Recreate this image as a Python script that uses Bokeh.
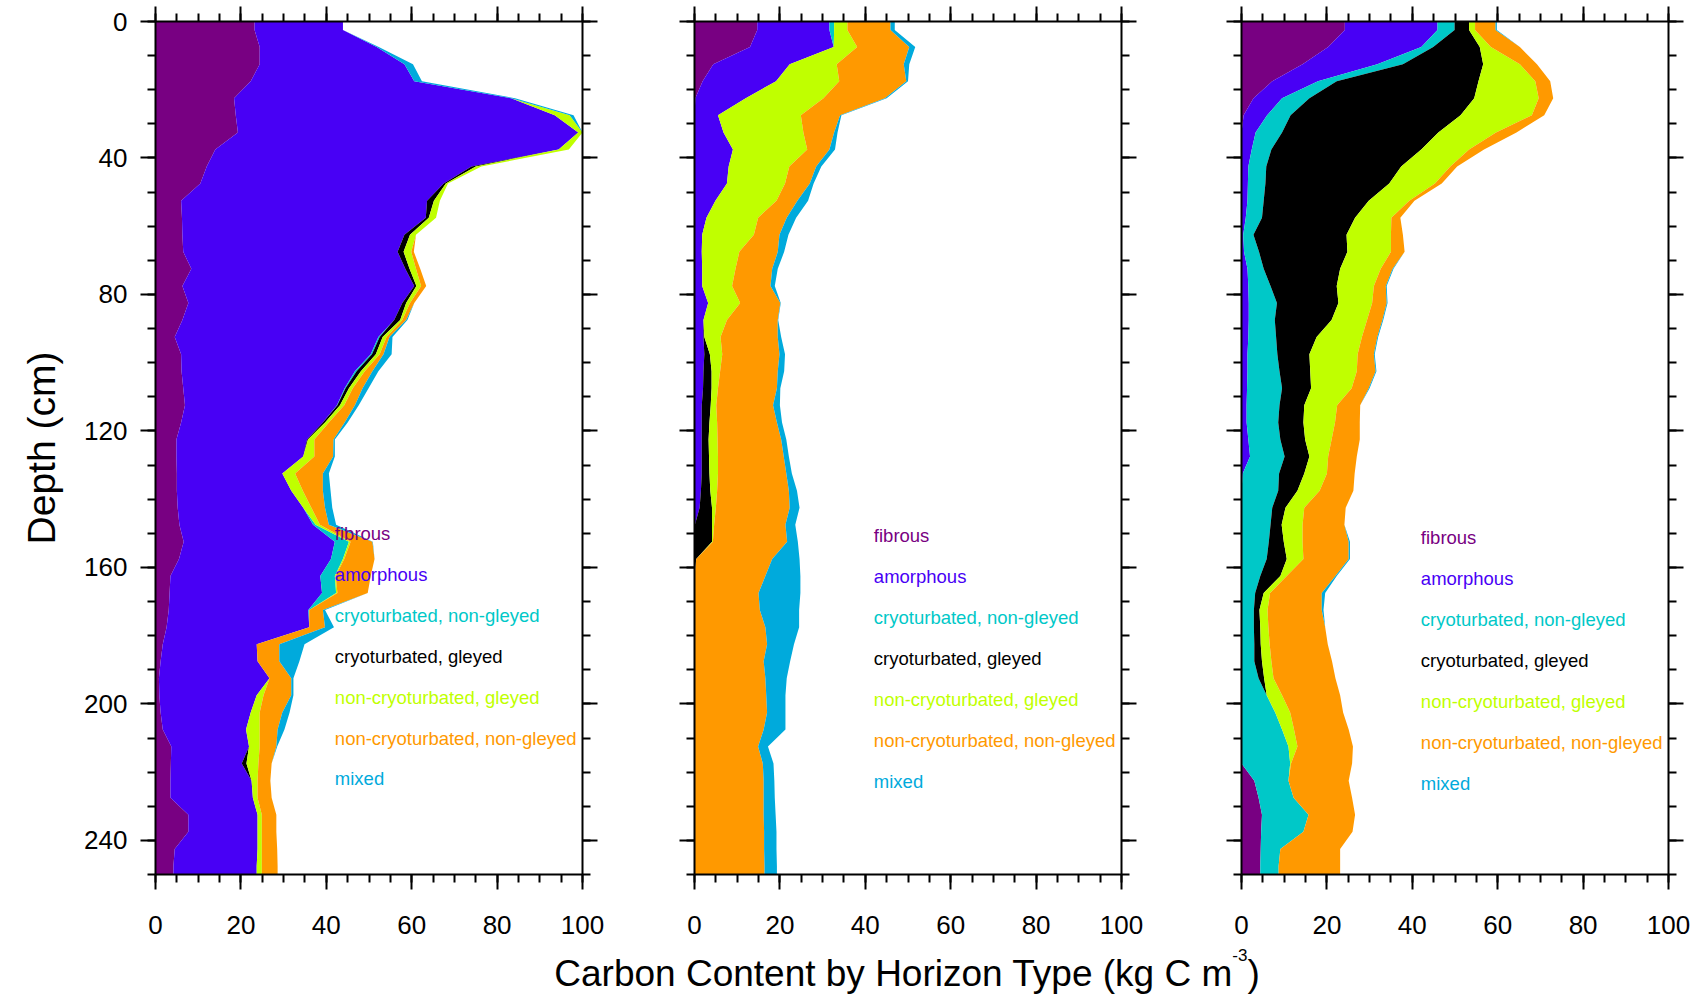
from bokeh.plotting import figure
from bokeh.models import ColumnDataSource, Range1d, LinearAxis, FixedTicker, Div
from bokeh.layouts import row, column
from bokeh.core.properties import value
from bokeh.embed import file_html
from bokeh.resources import INLINE

# Mid-depth of each 5 cm soil layer (cm)
DEPTH = [2.5, 7.5, 12.5, 17.5, 22.5, 27.5, 32.5, 37.5, 42.5, 47.5,
         52.5, 57.5, 62.5, 67.5, 72.5, 77.5, 82.5, 87.5, 92.5, 97.5,
         102.5, 107.5, 112.5, 117.5, 122.5, 127.5, 132.5, 137.5, 142.5, 147.5,
         152.5, 157.5, 162.5, 167.5, 172.5, 177.5, 182.5, 187.5, 192.5, 197.5,
         202.5, 207.5, 212.5, 217.5, 222.5, 227.5, 232.5, 237.5, 242.5, 247.5]

HORIZONS = ["fibrous", "amorphous", "cryoturbated, non-gleyed", "cryoturbated, gleyed",
            "non-cryoturbated, gleyed", "non-cryoturbated, non-gleyed", "mixed"]
KEYS = ["fib", "amo", "crn", "crg", "ncg", "ncng", "mix"]
COLORS = ["#780082", "#4800F5", "#00C8C8", "#000000", "#C0FF00", "#FF9900", "#00AADC"]

X_TICKS = [0, 20, 40, 60, 80, 100]
X_MINOR = [0, 5, 10, 15, 20, 25, 30, 35, 40, 45, 50, 55, 60, 65, 70, 75, 80, 85, 90, 95, 100]
Y_TICKS = [0, 40, 80, 120, 160, 200, 240]
Y_MINOR = [0, 10, 20, 30, 40, 50, 60, 70, 80, 90, 100, 110, 120, 130, 140, 150, 160, 170,
           180, 190, 200, 210, 220, 230, 240, 250]
LEGEND_X = 42
LEGEND_Y = [150, 162, 174, 186, 198, 210, 222]
LEGEND_SHIFT = [0.0, 0.6, 1.2]

# ---- Profile 1: carbon content (kg C m-3) by horizon type ----
fib1 = [23.2, 24.4, 24.4, 22.3, 18.4, 18.8, 19.3, 14.0, 12.0, 10.5,
        6.0, 6.2, 6.3, 6.5, 8.4, 6.3, 7.7, 6.3, 4.5, 6.0,
        6.1, 6.5, 6.9, 6.0, 4.9, 4.9, 5.0, 5.0, 5.2, 5.6,
        6.6, 5.5, 3.5, 3.3, 3.1, 2.6, 1.7, 1.2, 0.8, 0.9,
        1.2, 1.7, 3.7, 3.6, 3.5, 3.5, 7.7, 7.7, 4.5, 4.2]
amo1 = [20.7, 27.4, 33.9, 38.3, 64.9, 74.7, 79.7, 80.4, 62.0, 57.0,
        57.6, 57.1, 52.0, 50.2, 50.1, 54.3, 50.1, 49.6, 47.7, 44.4,
        40.6, 37.8, 35.6, 33.2, 30.6, 29.7, 24.7, 26.8, 29.4, 31.3,
        35.4, 35.6, 35.1, 35.7, 32.7, 33.4, 22.0, 22.7, 25.9, 22.8,
        21.1, 19.5, 18.2, 16.6, 19.0, 19.3, 16.2, 16.2, 19.4, 19.5]
crn1 = [0, 0, 0, 0, 0, 0, 0, 0, 0, 0,
        0, 0, 0, 0, 0, 0, 0, 0, 0.3, 0.3,
        0.4, 0.2, 0.1, 0, 0, 0, 0, 0, 0, 0.6,
        3.3, 2.8, 3.4, 3.3, 0.2, 0, 0, 0, 0, 0,
        0, 0, 0, 0, 0, 0, 0, 0, 0, 0]
crg1 = [0, 0, 0, 0, 0, 0, 0, 0, 1.0, 0.5,
        1.6, 0.7, 1.3, 1.4, 1.0, 0.5, 0.9, 1.4, 0.7, 0.9,
        1.0, 0.8, 0.6, 0.5, 0.2, 0, 0, 0, 0, 0,
        0, 0, 0, 0, 0, 0, 0, 0, 0, 0,
        0, 0, 0, 1.1, 0, 0, 0, 0, 0, 0]
ncg1 = [0, 0, 0, 0, 0, 3.5, 1.0, 2.4, 1.3, 0.5,
        1.4, 1.7, 1.4, 1.8, 1.5, 1.1, 0.9, 0.5, 0.9, 0.9,
        0.9, 0.9, 1.0, 0.9, 1.5, 2.6, 3.0, 2.7, 1.9, 1.0,
        0.4, 0.3, 0.2, 0.3, 0, 0, 0, 0, 0, 1.6,
        2.1, 3.2, 2.5, 2.8, 1.4, 1.1, 1.0, 1.0, 1.0, 1.2]
ncng1 = [0, 0, 0, 0, 0, 0, 0, 0, 0, 0,
         0, 0, 0, 0.6, 1.0, 1.2, 1.0, 0.9, 0.7, 0.9,
         1.8, 2.3, 2.5, 3.7, 4.5, 4.4, 6.5, 4.7, 3.2, 2.1,
         5.1, 7.1, 8.2, 7.1, 3.2, 3.7, 5.3, 5.1, 5.1, 6.5,
         5.3, 4.2, 3.9, 3.1, 3.0, 3.3, 3.4, 3.4, 3.6, 3.7]
mix1 = [0, 0.5, 2.0, 1.8, 0.9, 0.9, 0, 0, 0, 0,
        0, 0, 0, 0, 0, 0, 0, 0.3, 0.7, 1.9,
        1.4, 1.4, 0.9, 0.7, 0.3, 0.4, 1.4, 1.8, 1.7, 1.7,
        0.1, 0, 0, 0, 0.5, 2.1, 5.9, 4.7, 0.5, 0.5,
        1.7, 1.6, 0.2, 0, 0, 0, 0, 0, 0, 0]

# ---- Profile 2 ----
fib2 = [14.7, 13.0, 4.4, 1.9, 0.2, 0, 0, 0, 0, 0,
        0, 0, 0, 0, 0, 0, 0, 0, 0, 0,
        0, 0, 0, 0, 0, 0, 0, 0, 0, 0,
        0, 0, 0, 0, 0, 0, 0, 0, 0, 0,
        0, 0, 0, 0, 0, 0, 0, 0, 0, 0]
amo2 = [16.9, 19.6, 17.9, 17.2, 11.8, 5.5, 6.8, 9.0, 8.0, 7.6,
        4.9, 2.8, 1.8, 1.7, 1.8, 1.8, 3.2, 2.1, 2.1, 2.3,
        2.1, 2.0, 1.7, 1.7, 1.7, 1.7, 1.7, 1.5, 1.2, 0.1,
        0, 0, 0, 0, 0, 0, 0, 0, 0, 0,
        0, 0, 0, 0, 0, 0, 0, 0, 0, 0]
crn2 = [1.1, 0, 0, 0, 0, 0, 0, 0, 0, 0,
        0, 0, 0, 0, 0, 0, 0, 0, 0, 0,
        0, 0, 0, 0, 0, 0, 0, 0, 0, 0,
        0, 0, 0, 0, 0, 0, 0, 0, 0, 0,
        0, 0, 0, 0, 0, 0, 0, 0, 0, 0]
crg2 = [0, 0, 0, 0, 0, 0, 0, 0, 0, 0,
        0, 0, 0, 0, 0, 0, 0, 0, 0.2, 1.3,
        1.9, 2.0, 2.1, 1.8, 1.6, 1.7, 1.8, 2.2, 2.9, 4.0,
        4.1, 0.4, 0, 0, 0, 0, 0, 0, 0, 0,
        0, 0, 0, 0, 0, 0, 0, 0, 0, 0]
ncg2 = [3.1, 5.5, 11.0, 14.8, 18.2, 19.4, 18.7, 17.4, 14.2, 13.6,
        14.3, 12.1, 12.1, 8.8, 7.8, 7.0, 7.5, 5.5, 3.8, 2.9,
        2.0, 1.5, 1.3, 1.8, 2.1, 2.1, 2.0, 1.6, 0.9, 0.5,
        0.2, 0, 0, 0, 0, 0, 0, 0, 0, 0,
        0, 0, 0, 0, 0, 0, 0, 0, 0, 0]
ncng2 = [10.1, 12.2, 15.7, 15.7, 14.4, 9.2, 7.2, 5.2, 6.3, 5.8,
         4.9, 6.7, 6.0, 9.0, 8.6, 9.0, 9.4, 11.9, 13.4, 13.4,
         13.5, 13.8, 13.3, 14.0, 14.9, 15.4, 16.0, 16.8, 17.3, 16.7,
         17.4, 17.8, 16.6, 15.0, 15.3, 16.6, 17.0, 16.2, 16.6, 16.8,
         17.0, 16.2, 14.9, 16.0, 16.2, 16.2, 16.2, 16.3, 16.3, 16.4]
mix2 = [1.0, 1.4, 1.3, 0.4, 0.4, 0.3, 0.8, 1.3, 1.2, 0.9,
        2.5, 2.2, 2.1, 1.5, 1.3, 1.0, 0.1, 0.1, 0.8, 1.3,
        1.5, 0.8, 1.6, 1.2, 1.2, 1.2, 1.3, 1.9, 2.3, 2.3,
        2.5, 6.4, 8.2, 9.8, 9.2, 7.9, 6.3, 6.2, 5.0, 4.5,
        4.3, 5.1, 2.3, 2.5, 2.5, 2.6, 2.8, 2.9, 2.9, 2.9]

# ---- Profile 3 ----
fib3 = [24.2, 20.3, 14.3, 7.2, 2.8, 0.5, 0, 0, 0, 0,
        0, 0, 0, 0, 0, 0, 0, 0, 0, 0,
        0, 0, 0, 0, 0, 0, 0, 0, 0, 0,
        0, 0, 0, 0, 0, 0, 0, 0, 0, 0,
        0, 0, 0, 0, 3.0, 4.0, 4.8, 4.6, 4.5, 4.4]
amo3 = [21.7, 21.8, 17.5, 10.7, 6.7, 5.5, 3.3, 2.4, 1.6, 1.5,
        1.4, 1.0, 0.4, 0.6, 1.4, 1.6, 1.7, 1.7, 1.6, 1.4,
        1.4, 1.3, 1.2, 1.2, 1.6, 2.0, 0.3, 0, 0, 0,
        0, 0, 0, 0, 0, 0, 0, 0, 0, 0,
        0, 0, 0, 0, 0, 0, 0, 0, 0, 0]
crn3 = [4.0, 2.8, 6.0, 4.4, 6.4, 5.5, 6.2, 4.6, 4.2, 4.1,
        3.8, 3.8, 2.4, 3.5, 3.8, 5.2, 6.6, 6.1, 6.5, 7.0,
        7.5, 8.2, 7.7, 7.4, 7.5, 8.1, 8.5, 8.6, 7.2, 6.8,
        6.4, 5.9, 4.4, 3.2, 2.9, 2.9, 3.0, 3.0, 4.0, 5.9,
        7.9, 9.5, 11.0, 11.4, 8.0, 8.2, 10.9, 9.9, 4.6, 4.3]
crg3 = [3.4, 10.9, 18.8, 33.2, 38.6, 39.8, 36.6, 35.1, 31.6, 29.0,
        24.6, 21.8, 21.8, 20.7, 17.9, 15.5, 14.4, 13.3, 9.5, 7.5,
        7.2, 6.8, 5.8, 5.9, 5.8, 5.8, 5.9, 4.5, 3.1, 2.6,
        3.5, 4.7, 4.7, 2.0, 1.3, 1.5, 1.5, 1.8, 1.3, 0,
        0, 0, 0, 0, 0, 0, 0, 0, 0, 0]
ncg3 = [1.4, 2.6, 8.6, 13.3, 15.1, 16.7, 13.5, 11.2, 11.5, 10.7,
        9.5, 8.5, 10.4, 10.2, 9.5, 8.7, 7.9, 8.3, 10.6, 11.3,
        10.9, 9.5, 7.7, 7.4, 6.2, 4.4, 5.3, 5.2, 4.4, 4.9,
        4.4, 3.9, 1.5, 1.5, 1.9, 1.9, 2.1, 2.2, 2.2, 3.6,
        3.5, 2.8, 2.1, 0.2, 0, 0, 0, 0, 0, 0]
ncng3 = [4.8, 6.8, 4.0, 3.5, 3.4, 2.9, 4.8, 3.5, 1.6, 1.6,
         1.2, 2.1, 2.8, 3.2, 2.8, 2.8, 3.4, 3.6, 3.6, 3.8,
         4.4, 4.0, 5.4, 5.8, 6.6, 6.7, 6.5, 7.9, 9.7, 9.8,
         10.8, 10.6, 11.4, 12.1, 12.7, 13.3, 13.6, 14.2, 14.5, 13.6,
         12.4, 12.8, 13.0, 14.3, 14.1, 13.7, 10.9, 11.5, 14.0, 14.4]
mix3 = [0.3, 0, 0, 0, 0, 0, 0, 0, 0, 0,
        0, 0, 0, 0, 0.2, 0.2, 0.2, 0.2, 0.2, 0.2,
        0.2, 0.2, 0, 0, 0, 0, 0, 0, 0, 0,
        0.3, 0.3, 0.3, 0.8, 0.4, 0, 0, 0, 0, 0,
        0, 0, 0, 0, 0, 0, 0, 0, 0, 0]

FONT = "Liberation Sans"


def style_axis(ax, show_labels):
    ax.axis_line_width = 2
    ax.axis_line_color = "black"
    ax.major_tick_line_width = 2
    ax.minor_tick_line_width = 2
    ax.major_tick_in = 0
    ax.major_tick_out = 15
    ax.minor_tick_in = 0
    ax.minor_tick_out = 8
    ax.major_label_text_font = FONT
    if show_labels:
        ax.major_label_text_font_size = "26px"
        ax.major_label_text_color = "black"
    else:
        # tick marks only: labels are neither drawn nor given room
        ax.major_label_text_font_size = "0px"
        ax.major_label_text_color = None
        ax.major_label_standoff = 0


def make_panel(series, border_left, border_right, with_depth_labels, legend_shift):
    depth = [0.0] + DEPTH + [250.0]
    data = {"depth": depth}
    for key, vals in zip(KEYS, series):
        data[key] = [vals[0]] + list(vals) + [vals[-1]]
    src = ColumnDataSource(data)

    p = figure(frame_width=427, frame_height=853,
               x_range=Range1d(0, 100), y_range=Range1d(250, 0),
               output_backend="svg", toolbar_location=None,
               min_border_left=border_left, min_border_right=border_right,
               min_border_top=21, min_border_bottom=79)
    p.outline_line_color = None
    p.grid.visible = False
    p.background_fill_color = "white"
    p.border_fill_color = "white"

    p.harea_stack(KEYS, y="depth", color=COLORS, source=src)

    xt = FixedTicker(ticks=X_TICKS, minor_ticks=X_MINOR)
    yt = FixedTicker(ticks=Y_TICKS, minor_ticks=Y_MINOR)

    bottom = p.xaxis[0]
    bottom.ticker = xt
    style_axis(bottom, True)
    bottom.major_label_standoff = 26

    left = p.yaxis[0]
    left.ticker = yt
    style_axis(left, with_depth_labels)
    if with_depth_labels:
        left.major_label_standoff = 13
        left.axis_label = "Depth (cm)"
        left.axis_label_text_font = FONT
        left.axis_label_text_font_size = "39px"
        left.axis_label_text_font_style = "normal"
        left.axis_label_text_color = "black"
        left.axis_label_standoff = 18

    top = LinearAxis(ticker=xt)
    style_axis(top, False)
    p.add_layout(top, "above")

    right = LinearAxis(ticker=yt)
    style_axis(right, False)
    p.add_layout(right, "right")

    leg = ColumnDataSource(dict(x=[LEGEND_X] * len(HORIZONS),
                                y=[v + legend_shift for v in LEGEND_Y],
                                text=HORIZONS, color=COLORS))
    p.text(x="x", y="y", text="text", text_color="color", source=leg,
           text_font=value(FONT), text_font_size=value("18.5px"),
           text_align="left", text_baseline="middle")
    return p


p1 = make_panel([fib1, amo1, crn1, crg1, ncg1, ncng1, mix1], 155, 56, True, LEGEND_SHIFT[0])
p2 = make_panel([fib2, amo2, crn2, crg2, ncg2, ncng2, mix2], 56, 60, False, LEGEND_SHIFT[1])
p3 = make_panel([fib3, amo3, crn3, crg3, ncg3, ncng3, mix3], 60, 34, False, LEGEND_SHIFT[2])

xtitle = Div(
    text='Carbon Content by Horizon Type (kg C m'
         '<span style="font-size:17px; position:relative; top:-25px;">-3</span>)',
    width=1000, height=42, margin=(0, 0, 0, 407),
    styles={"font-family": FONT, "font-size": "37px", "color": "black",
            "text-align": "center", "white-space": "nowrap", "line-height": "42px"})

layout = column(row(p1, p2, p3), xtitle)

open("out.html", "w").write(file_html(layout, INLINE))
